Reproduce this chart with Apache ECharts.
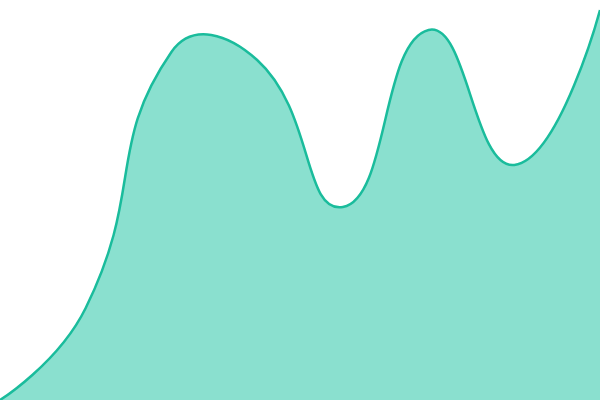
<!DOCTYPE html>
<html>
<head>
<meta charset="utf-8">
<script src="https://cdn.jsdelivr.net/npm/echarts@6/dist/echarts.min.js"></script>
<style>
  html, body { margin: 0; padding: 0; background: #fff; }
  #main { width: 600px; height: 400px; }
</style>
</head>
<body>
<div id="main"></div>
<script>
var categories = ['1', '2', '3', '4', '5', '6', '7', '8'];
var values = [0, 23, 87, 85, 48.25, 92.5, 58.75, 97.5];

var SMOOTH = 0.5;

// old-style bezier smoothing (no per-point clamp, so the curve may overshoot)
function controlPoints(pts) {
    var cps = [];
    var n = pts.length;
    for (var i = 0; i < n; i++) {
        var p = pts[i];
        if (i === 0 || i === n - 1) {
            cps.push([p[0], p[1]]);
            continue;
        }
        var prev = pts[i - 1], next = pts[i + 1];
        var vx = (next[0] - prev[0]) * SMOOTH;
        var vy = (next[1] - prev[1]) * SMOOTH;
        var d0 = Math.hypot(p[0] - prev[0], p[1] - prev[1]);
        var d1 = Math.hypot(p[0] - next[0], p[1] - next[1]);
        var sum = d0 + d1;
        if (sum !== 0) { d0 /= sum; d1 /= sum; }
        cps.push([p[0] - vx * d0, p[1] - vy * d0]);
        cps.push([p[0] + vx * d1, p[1] + vy * d1]);
    }
    return cps;
}

function curvePath(pts) {
    var cps = controlPoints(pts);
    var d = 'M' + pts[0][0] + ' ' + pts[0][1];
    for (var i = 0; i < pts.length - 1; i++) {
        var c0 = cps[2 * i], c1 = cps[2 * i + 1], p = pts[i + 1];
        d += 'C' + c0[0] + ' ' + c0[1] + ' ' + c1[0] + ' ' + c1[1] + ' ' + p[0] + ' ' + p[1];
    }
    return d;
}

var chart = echarts.init(document.getElementById('main'));
var option = {
    animation: false,
    grid: { left: 0, right: 0, top: 0, bottom: 0 },
    xAxis: {
        type: 'category',
        data: categories,
        boundaryGap: false,
        show: false
    },
    yAxis: {
        type: 'value',
        min: 0,
        max: 100,
        show: false
    },
    series: [
        {
            type: 'custom',
            data: values.map(function (v, i) { return [i, v]; }),
            clip: false,
            renderItem: function (params, api) {
                if (params.dataIndex !== 0) return null;
                var pts = values.map(function (v, i) { return api.coord([i, v]); });
                var base = api.coord([0, 0])[1];
                var line = curvePath(pts);
                var last = pts[pts.length - 1];
                var area = line + 'L' + last[0] + ' ' + base + 'L' + pts[0][0] + ' ' + base + 'Z';
                return {
                    type: 'group',
                    children: [
                        {
                            type: 'path',
                            shape: { pathData: area },
                            style: { fill: '#8ae0cf', stroke: null }
                        },
                        {
                            type: 'path',
                            shape: { pathData: line },
                            style: { fill: null, stroke: '#1abc9c', lineWidth: 2.5 }
                        }
                    ]
                };
            }
        }
    ]
};
chart.setOption(option);
</script>
</body>
</html>
